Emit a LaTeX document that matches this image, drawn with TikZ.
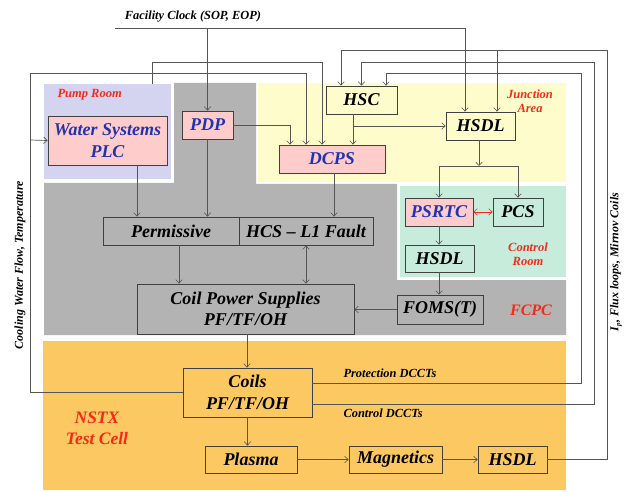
\documentclass[tikz,border=0pt]{standalone}
\usepackage{fontspec}
\setmainfont{Liberation Serif}
\usetikzlibrary{arrows.meta}

\definecolor{grayreg}{HTML}{B3B3B3}
\definecolor{pumpc}{HTML}{D4D4F0}
\definecolor{juncc}{HTML}{FFFCCC}
\definecolor{ctrlc}{HTML}{C8ECDC}
\definecolor{cellc}{HTML}{FCC862}
\definecolor{pinkc}{HTML}{FFCCCC}
\definecolor{bluec}{HTML}{2233B0}
\definecolor{redc}{HTML}{F52A18}
\definecolor{boxc}{HTML}{404040}
\definecolor{wirec}{HTML}{555555}

\tikzset{
  box/.style={draw=boxc, line width=0.8pt, inner sep=0pt, align=center, anchor=center},
  bigtxt/.style={font=\fontsize{18}{21.5}\selectfont\bfseries\itshape},
  midtxt/.style={font=\fontsize{18}{21}\selectfont\bfseries\itshape},
  smalltxt/.style={font=\fontsize{12.4}{14}\selectfont\bfseries\itshape},
  sidetxt/.style={font=\fontsize{12}{14}\selectfont\bfseries\itshape},
  area/.style={font=\fontsize{12.5}{14}\selectfont\bfseries\itshape, text=redc, align=center},
  wire/.style={draw=wirec, line width=0.7pt},
  >={Straight Barb[length=3.5pt,width=6.5pt,line width=0.6pt]},
}

\begin{document}
\begin{tikzpicture}[x=1pt,y=-1pt]
\useasboundingbox (0,0) rectangle (624,492);

% ---- areas ----
\fill[grayreg] (174,83) -- (256,83) -- (256,184) -- (397,184) -- (397,280)
  -- (566,280) -- (566,335) -- (44,335) -- (44,183) -- (174,183) -- cycle;
\fill[pumpc] (44,84) rectangle (171,179);
\fill[juncc] (258,83) rectangle (566,182);
\fill[ctrlc] (400,186) rectangle (566,277);
\fill[cellc] (43,341) rectangle (566,490);

\node[area, anchor=west] (pumplbl) at (54,95) {Pump Room};
\node[area] (junclbl) at (530,101) {Junction\\Area};
\node[area] (ctrllbl) at (528,254) {Control\\Room};
\node[area, font=\fontsize{16}{20}\selectfont\bfseries\itshape] (fcpclbl) at (531,310) {FCPC};
\node[area, font=\fontsize{17.5}{21}\selectfont\bfseries\itshape] (celllbl) at (97,428) {NSTX\\Test Cell};

% ---- blocks ----
\node[box, bigtxt, fill=pinkc, text=bluec, minimum width=119, minimum height=49] (wsp) at (107.5,140.5) {Water Systems\\PLC};
\node[box, bigtxt, fill=pinkc, text=bluec, minimum width=51, minimum height=28] (pdp) at (207.5,125) {PDP};
\node[box, bigtxt, fill=juncc, minimum width=71, minimum height=28] (hsc) at (361.5,100) {HSC};
\node[box, bigtxt, fill=juncc, minimum width=69, minimum height=28] (hsdlA) at (480.5,126) {HSDL};
\node[box, bigtxt, fill=pinkc, text=bluec, minimum width=106, minimum height=28] (dcps) at (332,159) {DCPS};
\node[box, bigtxt, fill=pinkc, text=bluec, minimum width=68, minimum height=28] (psrtc) at (439,212) {PSRTC};
\node[box, bigtxt, fill=ctrlc, minimum width=50, minimum height=28] (pcs) at (518,212) {PCS};
\node[box, bigtxt, fill=ctrlc, minimum width=69, minimum height=27] (hsdlB) at (439.5,258.5) {HSDL};
\node[box, midtxt, fill=grayreg, minimum width=136, minimum height=28] (perm) at (171,231) {Permissive};
\node[box, midtxt, fill=grayreg, minimum width=134, minimum height=28] (hcs) at (306,231) {HCS -- L1 Fault};
\node[box, midtxt, fill=grayreg, minimum width=217, minimum height=50] (cps) at (245.5,309) {Coil Power Supplies\\PF/TF/OH};
\node[box, bigtxt, fill=grayreg, minimum width=86, minimum height=29] (foms) at (440,309.5) {FOMS(T)};
\node[box, bigtxt, fill=cellc, minimum width=129, minimum height=49] (coils) at (247.5,392.5) {Coils\\PF/TF/OH};
\node[box, midtxt, fill=cellc, minimum width=92, minimum height=27] (plasma) at (251,459.5) {Plasma};
\node[box, midtxt, fill=cellc, minimum width=93, minimum height=27] (mag) at (395.5,459.5) {Magnetics};
\node[box, bigtxt, fill=cellc, minimum width=69, minimum height=27] (hsdlC) at (512.5,459.5) {HSDL};

% ---- free labels ----
\node[smalltxt] (clocklbl) at (193,17) {Facility Clock (SOP, EOP)};
\node[smalltxt, anchor=west] (protlbl) at (340,373) {Protection DCCTs};
\node[smalltxt, anchor=west] (ctrldlbl) at (340,413) {Control DCCTs};
\node[sidetxt, rotate=90] (coollbl) at (20,265) {Cooling Water Flow, Temperature};
\node[sidetxt, rotate=90] (maglbl) at (616,262) {\textit{I}\raisebox{-0.35ex}{\scriptsize\textit{p}}, Flux loops, Mirnov Coils};

% ---- junction points ----
\coordinate (clockL) at (115,28);
\coordinate (pumpTop) at (152,84);
\coordinate (loopL) at (30,73);
\coordinate (split) at (479,166);

% ---- connectors ----
% facility clock
\draw[wire,->] (clockL) -| ([xshift=-15.5pt]hsdlA.north);
\draw[wire,->] (pdp.north |- clockL) -- (pdp.north);
% magnetics data back to HSC and HSDL
\draw[wire,->] (hsdlC.east) -| (607,50) -| ([xshift=-20.5pt]hsc.north);
\draw[wire,->] (497,50) -- ([xshift=16.5pt]hsdlA.north);
% DCCT signals
\draw[wire,->] ([yshift=-11.5pt]coils.east) -| (594,62) -| (hsc.north);
\draw[wire,->] ([yshift=9.5pt]coils.east) -| (581,73) -| ([xshift=24.5pt]hsc.north);
% cooling water
\draw[wire,->] (coils.west) -| (loopL) -| ([xshift=-26pt]dcps.north);
\draw[wire,->] (30,140) -- (wsp.west);
\draw[wire,->] (pumpTop) |- (322,62) -- ([xshift=-10pt]dcps.north);
% junction area
\draw[wire,->] (pdp.east) -| ([xshift=-42pt]dcps.north);
\draw[wire,->] ([xshift=-8.5pt]hsc.south) -- ([xshift=21pt]dcps.north);
\draw[wire,->] ([xshift=-8.5pt]hsc.south |- hsdlA.west) -- (hsdlA.west);
\draw[wire,->] ([xshift=-1.5pt]hsdlA.south) -- (split);
\draw[wire,->] (split) -| (psrtc.north);
\draw[wire,->] (split) -| (pcs.north);
% control room
\draw[draw=redc, line width=0.7pt, <->] (psrtc.east) -- (pcs.west);
\draw[wire,->] (psrtc.south) -- (psrtc.south |- hsdlB.north);
\draw[wire,->] (psrtc.south |- hsdlB.south) -- (psrtc.south |- foms.north);
\draw[wire,->] (foms.west) -- (foms.west -| cps.east);
% FCPC
\draw[wire,->] ([xshift=29.5pt]wsp.south) -- ([xshift=29.5pt]wsp.south |- perm.north);
\draw[wire,->] (pdp.south) -- (pdp.south |- perm.north);
\draw[wire,->] ([xshift=2pt]dcps.south) -- ([xshift=2pt]dcps.south |- hcs.north);
\draw[wire,->] ([xshift=8pt]perm.south) -- ([xshift=8pt]perm.south |- cps.north);
\draw[wire,<->] (hcs.south) -- (hcs.south |- cps.north);
\draw[wire,->] ([xshift=1.5pt]cps.south) -- ([xshift=1.5pt]cps.south |- coils.north);
% test cell
\draw[wire,->] (coils.south) -- (coils.south |- plasma.north);
\draw[wire,->] (plasma.east) -- (mag.west);
\draw[wire,->] (mag.east) -- (hsdlC.west);
\end{tikzpicture}
\end{document}
